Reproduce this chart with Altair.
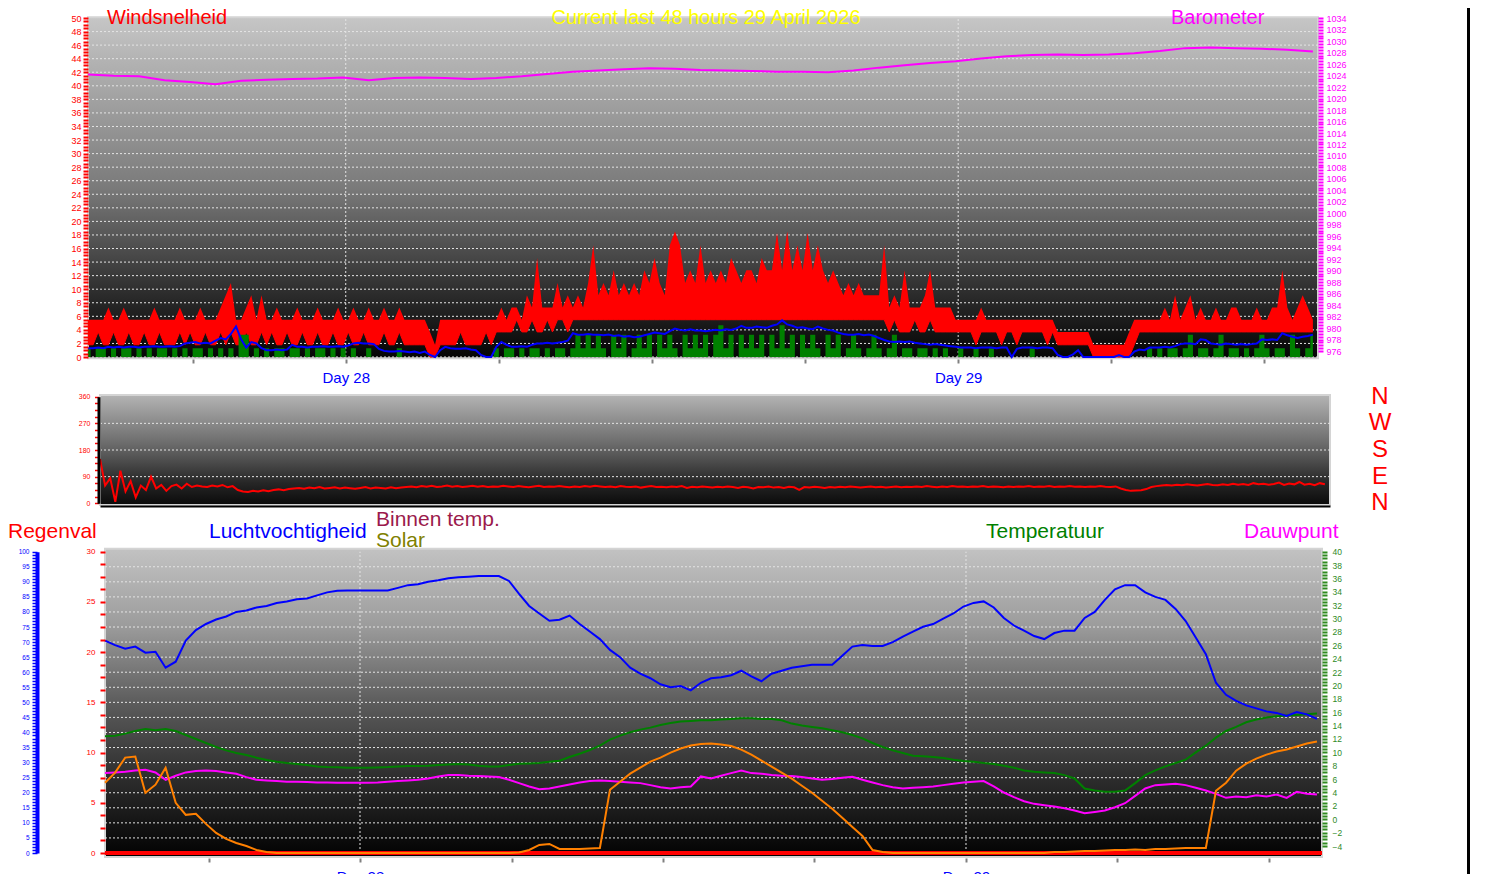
import altair as alt
import pandas as pd

# ---------------- data (hours relative to Day 28 00:00) ----------------
T_START = -10.1
T_END = 38.1
DT_WIND = 0.2
DT_BARO = 1.0
DT_CLIM = 0.4

# gust speed: upper and lower envelope of each 12-minute slot
gust_hi = [
    5.5, 5.5, 5.5, 5.5, 7.3, 5.5, 5.5, 7.3, 5.5, 5.5,
    5.5, 5.5, 5.5, 7.3, 5.5, 5.5, 5.5, 5.5, 7.3, 5.5,
    5.5, 5.5, 7.3, 5.5, 5.5, 5.5, 7.3, 9.1, 10.9, 5.5,
    5.5, 7.3, 9.1, 5.5, 9.1, 5.5, 5.5, 7.3, 5.5, 5.5,
    5.5, 7.3, 5.5, 5.5, 5.5, 7.3, 5.5, 5.5, 5.5, 7.3,
    5.5, 5.5, 7.3, 5.5, 5.5, 7.3, 5.5, 5.5, 7.3, 5.5,
    5.5, 7.3, 5.5, 5.5, 5.5, 5.5, 5.5, 3.7, 1.8, 5.5,
    5.5, 5.5, 5.5, 5.5, 5.5, 5.5, 5.5, 5.5, 5.5, 5.5,
    5.5, 7.3, 5.5, 7.3, 7.3, 5.5, 9.1, 7.3, 14.6, 7.3,
    7.3, 7.3, 10.9, 7.3, 9.1, 7.3, 9.1, 7.3, 10.9, 16.5,
    9.1, 10.9, 9.1, 12.8, 9.1, 10.9, 9.1, 10.9, 9.1, 12.8,
    10.9, 14.6, 10.9, 9.1, 16.5, 18.5, 16.5, 10.9, 12.8, 10.9,
    16.5, 10.9, 12.8, 10.9, 12.8, 10.9, 14.6, 12.8, 10.9, 12.8,
    12.8, 10.9, 14.6, 12.8, 12.8, 18.3, 12.8, 18.5, 12.8, 16.5,
    12.8, 18.3, 12.8, 16.5, 12.8, 10.9, 12.8, 10.9, 9.1, 10.9,
    9.1, 10.9, 9.1, 9.1, 9.1, 9.1, 16.5, 7.3, 9.1, 7.3,
    12.8, 7.3, 7.3, 7.3, 9.1, 12.8, 7.3, 7.3, 7.3, 7.3,
    5.5, 5.5, 5.5, 5.5, 5.5, 7.3, 5.5, 5.5, 5.5, 5.5,
    5.5, 5.5, 5.5, 5.5, 5.5, 5.5, 5.5, 5.5, 5.5, 5.5,
    3.7, 3.7, 3.7, 3.7, 3.7, 3.7, 3.7, 1.8, 1.8, 1.8,
    1.8, 1.8, 1.8, 1.8, 3.7, 5.5, 5.5, 5.5, 5.5, 5.5,
    5.5, 7.3, 5.5, 9.1, 5.5, 7.3, 9.1, 5.5, 7.3, 5.5,
    5.5, 7.3, 5.5, 5.5, 7.3, 7.3, 5.5, 5.5, 5.5, 7.3,
    5.5, 5.5, 7.3, 7.3, 12.8, 7.3, 5.5, 7.3, 9.1, 7.3, 5.5,
]

gust_lo = [
    1.8, 1.8, 3.7, 1.8, 1.8, 3.7, 1.8, 1.8, 3.7, 1.8,
    1.8, 3.7, 1.8, 1.8, 3.7, 1.8, 1.8, 1.8, 3.7, 1.8,
    3.7, 1.8, 1.8, 3.7, 1.8, 1.8, 3.7, 1.8, 3.7, 1.8,
    1.8, 3.7, 1.8, 1.8, 3.7, 1.8, 3.7, 1.8, 1.8, 3.7,
    1.8, 1.8, 3.7, 1.8, 1.8, 3.7, 1.8, 1.8, 3.7, 1.8,
    1.8, 3.7, 1.8, 1.8, 3.7, 1.8, 1.8, 1.8, 3.7, 1.8,
    1.8, 3.7, 1.8, 1.8, 1.8, 1.8, 1.8, 0.0, 0.0, 1.8,
    1.8, 1.8, 1.8, 3.7, 1.8, 1.8, 1.8, 1.8, 3.7, 1.8,
    3.7, 3.7, 3.7, 3.7, 5.5, 3.7, 3.7, 5.5, 3.7, 3.7,
    5.5, 3.7, 5.5, 5.5, 3.7, 5.5, 5.5, 5.5, 5.5, 5.5,
    5.5, 5.5, 5.5, 5.5, 5.5, 5.5, 5.5, 5.5, 5.5, 5.5,
    5.5, 5.5, 5.5, 5.5, 5.5, 5.5, 5.5, 5.5, 5.5, 5.5,
    5.5, 5.5, 5.5, 5.5, 5.5, 5.5, 5.5, 5.5, 5.5, 5.5,
    5.5, 5.5, 5.5, 5.5, 5.5, 5.5, 5.5, 5.5, 5.5, 5.5,
    5.5, 5.5, 5.5, 5.5, 5.5, 5.5, 5.5, 5.5, 5.5, 5.5,
    5.5, 5.5, 5.5, 5.5, 5.5, 5.5, 5.5, 3.7, 5.5, 3.7,
    3.7, 3.7, 5.5, 3.7, 3.7, 5.5, 3.7, 3.7, 3.7, 3.7,
    3.7, 3.7, 3.7, 3.7, 1.8, 3.7, 3.7, 3.7, 3.7, 1.8,
    3.7, 3.7, 1.8, 3.7, 3.7, 3.7, 3.7, 3.7, 1.8, 3.7,
    1.8, 1.8, 1.8, 1.8, 1.8, 1.8, 1.8, 0.0, 0.0, 0.0,
    0.0, 0.0, 0.0, 0.0, 0.0, 1.8, 3.7, 3.7, 3.7, 3.7,
    3.7, 3.7, 3.7, 3.7, 3.7, 3.7, 3.7, 3.7, 3.7, 3.7,
    3.7, 3.7, 3.7, 3.7, 3.7, 3.7, 3.7, 3.7, 3.7, 3.7,
    3.7, 3.7, 3.7, 3.7, 3.7, 3.7, 3.7, 3.7, 3.7, 3.7, 3.7,
]

wind_avg = [
    1.3, 1.3, 1.4, 1.3, 1.5, 1.4, 1.5, 1.4, 1.5, 1.5,
    1.4, 1.5, 1.5, 1.6, 1.5, 1.5, 1.6, 1.5, 1.6, 2.0,
    2.1, 2.2, 2.0, 2.1, 2.0, 2.4, 2.8, 2.6, 3.4, 4.5,
    2.6, 1.4, 2.2, 2.0, 1.3, 1.0, 1.0, 1.1, 1.0, 1.1,
    1.8, 1.5, 1.5, 1.4, 1.5, 1.5, 1.6, 1.5, 1.5, 1.6,
    1.5, 1.7, 2.0, 2.1, 2.0, 2.0, 1.9, 1.2, 0.9, 0.8,
    0.8, 0.9, 0.8, 0.7, 0.8, 0.6, 0.8, 0.3, 0.0, 1.0,
    1.5, 1.3, 1.2, 1.2, 1.3, 1.1, 1.0, 0.3, 0.0, 0.0,
    1.5, 2.2, 1.8, 1.5, 1.5, 1.6, 1.5, 1.8, 2.0, 2.0,
    2.1, 2.0, 2.1, 2.2, 2.4, 3.5, 3.3, 3.3, 3.4, 3.3,
    3.3, 3.2, 3.3, 3.1, 3.2, 3.0, 3.1, 2.9, 3.0, 3.2,
    3.4, 3.6, 3.5, 3.4, 3.8, 4.2, 4.0, 3.9, 4.1, 3.9,
    3.9, 3.8, 3.9, 4.0, 3.9, 4.1, 4.0, 4.2, 4.6, 4.3,
    4.3, 4.5, 4.4, 4.3, 4.6, 4.8, 5.4, 4.8, 4.6, 4.3,
    4.4, 4.2, 4.1, 4.5, 4.2, 4.0, 3.9, 3.6, 3.4, 3.3,
    3.3, 3.4, 3.2, 3.3, 3.1, 2.8, 2.5, 2.3, 2.2, 2.3,
    2.2, 2.3, 2.1, 2.0, 1.9, 1.8, 1.9, 1.8, 1.7, 1.6,
    1.5, 1.4, 1.4, 1.4, 1.3, 1.4, 1.4, 1.4, 1.3, 1.4,
    1.4, 0.0, 1.2, 1.4, 1.4, 1.4, 1.3, 1.4, 1.4, 1.3,
    0.3, 0.0, 0.0, 0.4, 1.0, 0.0, 0.0, 0.0, 0.0, 0.0,
    0.0, 0.0, 0.3, 0.0, 0.0, 0.8, 1.1, 1.0, 1.4, 1.4,
    1.4, 1.5, 1.4, 1.6, 1.9, 2.0, 2.0, 1.9, 2.6, 2.5,
    2.0, 1.9, 1.8, 2.0, 1.9, 1.8, 1.9, 1.8, 1.9, 2.0,
    2.6, 2.5, 2.6, 2.5, 3.5, 3.2, 3.0, 2.8, 3.0, 3.1, 3.3,
]

wind_lull = [
    1.3, 0, 1.3, 1.3, 0, 1.3, 0, 1.3, 1.3, 0,
    1.3, 0, 1.3, 0, 1.3, 1.3, 0, 1.3, 0, 1.3,
    0, 1.3, 1.3, 0, 1.3, 0, 1.3, 0, 1.3, 0,
    3.3, 3.3, 0, 1.3, 0, 1.3, 0, 1.3, 1.3, 0,
    1.3, 1.3, 0, 1.3, 0, 1.3, 1.3, 0, 1.3, 0,
    1.3, 0, 1.3, 0, 0, 1.3, 0, 0, 0, 0,
    0, 1.3, 0, 0, 0, 0, 0, 0, 0, 0,
    0, 0, 0, 0, 0, 0, 0, 0, 0, 0,
    1.3, 0, 1.3, 1.3, 0, 1.3, 0, 1.3, 1.3, 0,
    1.3, 0, 1.3, 1.3, 0, 1.3, 3.3, 1.3, 3.3, 1.3,
    3.3, 1.3, 0, 3.3, 1.3, 3.3, 0, 1.3, 3.3, 1.3,
    3.3, 0, 3.3, 1.3, 3.3, 1.3, 0, 3.3, 1.3, 3.3,
    1.3, 3.3, 0, 3.3, 4.7, 1.3, 3.3, 0, 3.3, 1.3,
    3.3, 1.3, 3.3, 0, 3.3, 1.3, 4.7, 1.3, 3.3, 0,
    3.3, 1.3, 3.3, 1.3, 0, 3.3, 1.3, 3.3, 0, 1.3,
    3.3, 1.3, 0, 1.3, 3.3, 1.3, 0, 1.3, 3.3, 0,
    1.3, 1.3, 0, 1.3, 1.3, 0, 1.3, 0, 1.3, 0,
    0, 1.3, 0, 0, 1.3, 0, 0, 1.3, 0, 0,
    0, 0, 0, 0, 0, 1.3, 0, 0, 0, 0,
    0, 0, 0, 0, 0, 0, 0, 0, 0, 0,
    0, 0, 0, 0, 0, 0, 0, 0, 1.3, 0,
    1.3, 0, 1.3, 1.3, 0, 1.3, 3.3, 0, 1.3, 1.3,
    0, 1.3, 3.3, 0, 1.3, 1.3, 0, 1.3, 0, 1.3,
    3.3, 1.3, 0, 1.3, 1.3, 0, 3.3, 1.3, 0, 1.3, 3.3,
]

barometer = [
    1024.2, 1024.0, 1023.9, 1023.2, 1022.9, 1022.5, 1023.1, 1023.3, 1023.4, 1023.5,
    1023.7, 1023.2, 1023.6, 1023.7, 1023.6, 1023.4, 1023.6, 1023.9, 1024.3, 1024.7,
    1024.9, 1025.1, 1025.3, 1025.2, 1025.0, 1024.9, 1024.8, 1024.7, 1024.7, 1024.6,
    1024.9, 1025.4, 1025.8, 1026.2, 1026.5, 1027.0, 1027.4, 1027.6, 1027.7, 1027.6,
    1027.7, 1027.9, 1028.3, 1028.8, 1028.9, 1028.8, 1028.7, 1028.5, 1028.2,
]

wind_dir = [
    150, 60, 85, 5, 110, 40, 75, 20, 60, 45,
    90, 50, 62, 42, 58, 63, 50, 66, 55, 60,
    57, 55, 60, 57, 62, 54, 58, 45, 40, 38,
    42, 40, 44, 41, 45, 47, 44, 48, 50, 52,
    49, 53, 51, 55, 50, 52, 54, 50, 53, 51,
    49, 52, 55, 50, 53, 52, 50, 54, 51, 53,
    55, 57, 54, 58, 56, 59, 55, 57, 60, 56,
    58, 55, 57, 59, 56, 58, 55, 57, 56, 59,
    57, 55, 58, 56, 54, 57, 59, 55, 57, 56,
    58, 56, 54, 57, 55, 58, 56, 59, 57, 55,
    57, 54, 58, 56, 55, 57, 53, 56, 58, 55,
    56, 54, 57, 55, 58, 52, 56, 54, 57, 55,
    53, 56, 54, 57, 55, 52, 56, 54, 50, 55,
    54, 57, 53, 55, 52, 56, 54, 45, 55, 53,
    56, 54, 52, 55, 53, 56, 54, 57, 55, 53,
    55, 57, 54, 56, 53, 55, 57, 54, 56, 55,
    57, 55, 58, 56, 54, 57, 55, 58, 56, 57,
    55, 57, 56, 58, 55, 57, 56, 54, 57, 55,
    57, 56, 58, 55, 57, 56, 58, 55, 57, 56,
    58, 56, 57, 55, 57, 56, 58, 56, 55, 57,
    50, 45, 42, 43, 44, 48, 55, 58, 60, 62,
    60, 63, 61, 64, 62, 60, 63, 65, 62, 61,
    64, 62, 66, 63, 65, 62, 68, 64, 66, 63,
    65, 70, 62, 67, 64, 72, 63, 66, 61, 68, 64,
]

humidity = [
    70.5, 69.0, 67.8, 68.5, 66.5, 66.8, 61.5, 63.5, 70.5, 74.0,
    76.0, 77.5, 78.5, 80.0, 80.5, 81.5, 82.0, 83.0, 83.5, 84.2,
    84.5, 85.5, 86.5, 87.0, 87.1, 87.1, 87.1, 87.1, 87.1, 88.0,
    88.9, 89.2, 90.0, 90.5, 91.2, 91.5, 91.7, 91.9, 91.9, 91.9,
    90.3, 86.0, 82.0, 79.5, 77.1, 77.4, 78.8, 76.0, 73.5, 71.0,
    67.4, 65.0, 61.5, 59.5, 58.0, 56.0, 55.0, 55.4, 54.0, 56.5,
    58.0, 58.3, 59.0, 60.5, 58.6, 57.0, 59.5, 60.5, 61.5, 62.0,
    62.5, 62.5, 62.5, 65.5, 68.5, 69.0, 68.7, 68.7, 70.0, 71.8,
    73.5, 75.1, 76.0, 77.8, 79.5, 81.8, 83.0, 83.5, 81.5, 78.0,
    75.5, 73.8, 72.0, 71.0, 73.0, 73.8, 73.8, 78.0, 80.0, 84.0,
    87.5, 88.9, 88.9, 86.5, 85.0, 84.0, 81.0, 77.0, 71.5, 66.0,
    56.5, 52.5, 50.5, 49.0, 48.0, 47.0, 46.5, 45.5, 46.8, 46.0,
    44.5,
]

temperature = [
    12.4, 12.5, 12.8, 13.2, 13.5, 13.3, 13.5, 13.2, 12.6, 12.0,
    11.4, 10.8, 10.3, 9.9, 9.6, 9.2, 8.85, 8.6, 8.4, 8.25,
    8.1, 7.9, 7.8, 7.76, 7.7, 7.7, 7.7, 7.75, 7.8, 7.9,
    7.95, 7.96, 8.0, 8.1, 8.2, 8.25, 8.2, 8.0, 7.9, 7.9,
    8.1, 8.3, 8.35, 8.4, 8.6, 8.75, 9.3, 9.8, 10.35, 11.0,
    11.9, 12.5, 13.0, 13.4, 13.7, 14.1, 14.4, 14.6, 14.7, 14.8,
    14.8, 14.9, 15.0, 15.1, 15.1, 15.0, 15.0, 14.8, 14.3, 14.0,
    13.8, 13.6, 13.3, 13.0, 12.6, 12.1, 11.4, 10.8, 10.3, 9.9,
    9.5, 9.4, 9.3, 9.15, 8.9, 8.7, 8.6, 8.4, 8.26, 8.0,
    7.7, 7.3, 7.1, 7.0, 6.9, 6.6, 6.1, 4.6, 4.3, 4.1,
    4.1, 4.3, 5.4, 6.6, 7.3, 7.9, 8.4, 8.9, 10.0, 11.0,
    12.2, 13.2, 13.8, 14.5, 14.9, 15.2, 15.4, 15.5, 15.6, 15.7,
    15.8,
]

dewpoint = [
    6.9, 7.0, 7.1, 7.3, 7.4, 7.0, 5.9, 6.5, 7.0, 7.2,
    7.3, 7.2, 7.0, 6.8, 6.3, 5.9, 5.8, 5.7, 5.6, 5.6,
    5.55, 5.5, 5.5, 5.47, 5.45, 5.45, 5.47, 5.5, 5.6, 5.7,
    5.8, 5.9, 6.1, 6.4, 6.6, 6.6, 6.5, 6.45, 6.4, 6.3,
    5.9, 5.4, 4.9, 4.5, 4.6, 4.9, 5.2, 5.5, 5.7, 5.8,
    5.7, 5.6, 5.5, 5.4, 5.1, 4.8, 4.6, 4.8, 4.9, 6.4,
    6.1, 6.5, 6.9, 7.3, 6.9, 6.8, 6.6, 6.5, 6.45, 6.3,
    6.1, 5.9, 6.0, 6.2, 6.35, 5.9, 5.5, 5.1, 4.8, 4.6,
    4.7, 4.8, 4.9, 5.1, 5.3, 5.5, 5.6, 5.7, 4.9, 4.0,
    3.3, 2.7, 2.3, 2.1, 1.9, 1.65, 1.3, 0.9, 1.1, 1.3,
    1.8, 2.4, 3.5, 4.6, 5.1, 5.2, 5.3, 5.1, 4.7, 4.3,
    3.8, 3.2, 3.4, 3.3, 3.6, 3.4, 3.7, 3.2, 4.1, 3.8,
    3.7,
]

solar = [
    7.0, 8.0, 9.5, 9.6, 6.0, 6.8, 8.5, 5.0, 3.8, 3.9,
    2.9, 2.0, 1.4, 1.0, 0.7, 0.3, 0.1, 0.0, 0.0, 0.0,
    0.0, 0.0, 0.0, 0.0, 0.0, 0.0, 0.0, 0.0, 0.0, 0.0,
    0.0, 0.0, 0.0, 0.0, 0.0, 0.0, 0.0, 0.0, 0.0, 0.0,
    0.0, 0.05, 0.3, 0.8, 0.9, 0.4, 0.4, 0.4, 0.45, 0.5,
    6.3, 7.1, 7.9, 8.5, 9.1, 9.5, 10.0, 10.4, 10.7, 10.85,
    10.9, 10.8, 10.65, 10.3, 9.8, 9.2, 8.6, 8.0, 7.4, 6.7,
    6.0, 5.2, 4.4, 3.5, 2.6, 1.7, 0.3, 0.1, 0.0, 0.0,
    0.0, 0.0, 0.0, 0.0, 0.0, 0.0, 0.0, 0.0, 0.0, 0.0,
    0.0, 0.0, 0.0, 0.0, 0.1, 0.1, 0.15, 0.2, 0.2, 0.25,
    0.3, 0.3, 0.35, 0.3, 0.4, 0.4, 0.45, 0.5, 0.5, 0.5,
    6.2, 7.0, 8.2, 8.9, 9.4, 9.8, 10.1, 10.3, 10.6, 10.9,
    11.1,
]

rain_t = [T_START, T_END]
rain = [0.0, 0.0]

day_ticks = [-6, 0, 6, 12, 18, 24, 30, 36]
day_names = {0: "Day 28", 24: "Day 29"}
compass_dirs = [360, 270, 180, 90, 0]
compass_letters = ["N", "W", "S", "E", "N"]

# ---------------- layout helpers ----------------
W, H = 1465, 866
M = 8  # page margin: chart coords = page coords - 8


def px(p):
    return p - M


FONT = "Liberation Sans"


def times(n, dt):
    return [round(T_START + dt * i, 3) for i in range(n)]


def series(values, dt):
    return pd.DataFrame({"t": times(len(values), dt), "v": values})


def lin(domain, r0, r1):
    return alt.Scale(domain=domain, range=[px(r0), px(r1)], nice=False, zero=False)


xs1 = lin([T_START, T_END], 88, 1318)
ys_wind = lin([0, 50], 357, 18)
ys_baro = lin([976, 1034], 351, 18.3)
xs2 = lin([T_START, T_END], 100, 1330)
ys_dir = lin([0, 360], 503.3, 396.7)
xs3 = lin([T_START, T_END], 105, 1322)
ys_rain = lin([0, 30], 853, 551.7)
ys_hum = lin([0, 100], 853, 551.7)
ys_temp = lin([-4, 40], 846, 551.7)


def yaxis(orient, at_page, lo, hi, step, every, color, size, tick_size, tick_w, pad,
          domain=False, domain_color="black", domain_w=1):
    n = int(round((hi - lo) / step))
    offset = -px(at_page) if orient == "left" else px(at_page) - W
    return alt.Axis(
        orient=orient, offset=offset, title=None, grid=False,
        values=[lo + step * i for i in range(n + 1)],
        labelExpr=f"datum.value % {every} == 0 ? format(datum.value, 'd') : ''",
        labelColor=color, labelFont=FONT, labelFontSize=size, labelPadding=pad,
        labelOverlap=False, labelFlush=False,
        tickColor=color, tickSize=tick_size, tickWidth=tick_w,
        domain=domain, domainColor=domain_color, domainWidth=domain_w, zindex=2,
    )


def xaxis(at_page, labels=True, domain=False, domain_color="black", domain_w=1):
    expr = " : ".join([f"datum.value == {k} ? '{v}'" for k, v in day_names.items()]) + " : ''"
    return alt.Axis(
        orient="bottom", offset=px(at_page) - H, title=None, grid=False,
        values=day_ticks if labels else [],
        labelExpr=expr, labels=labels, ticks=labels,
        labelColor="#0000ff", labelFont=FONT, labelFontSize=15, labelPadding=7,
        labelOverlap=False, labelFlush=False,
        tickColor="#808080", tickSize=4, tickWidth=2,
        domain=domain, domainColor=domain_color, domainWidth=domain_w, zindex=2,
    )


def grad(stops):
    return alt.LinearGradient(gradient="linear", x1=0, y1=0, x2=0, y2=1,
                              stops=[alt.GradientStop(offset=o, color=c) for o, c in stops])


def panel(xs, ys, v0, v1, stops):
    df = pd.DataFrame({"t0": [T_START], "t1": [T_END], "v0": [v0], "v1": [v1]})
    return alt.Chart(df).mark_rect(fill=grad(stops), stroke="#d4d4d4", strokeWidth=2).encode(
        x=alt.X("t0:Q", scale=xs, axis=None), x2="t1:Q",
        y=alt.Y("v0:Q", scale=ys, axis=None), y2="v1:Q")


def hgrid(xs, ys, levels):
    df = pd.DataFrame({"g": levels, "t0": T_START, "t1": T_END})
    return alt.Chart(df).mark_rule(stroke="#e4e4e4", strokeDash=[2, 2], strokeWidth=1).encode(
        x=alt.X("t0:Q", scale=xs, axis=None), x2="t1:Q",
        y=alt.Y("g:Q", scale=ys, axis=None))


def vgrid(xs, ys, lo, hi):
    df = pd.DataFrame({"t": [0, 24], "lo": lo, "hi": hi})
    return alt.Chart(df).mark_rule(stroke="#e4e4e4", strokeDash=[2, 2], strokeWidth=1).encode(
        x=alt.X("t:Q", scale=xs, axis=None),
        y=alt.Y("lo:Q", scale=ys, axis=None), y2="hi:Q")


def line(df, xs, ys, color, width=2, xax=None, yax=None):
    return alt.Chart(df).mark_line(color=color, strokeWidth=width).encode(
        x=alt.X("t:Q", scale=xs, axis=xax),
        y=alt.Y("v:Q", scale=ys, axis=yax))


def label(text, x, y, color, size=21, align="left"):
    return alt.Chart(pd.DataFrame({"s": [text]})).mark_text(
        font=FONT, fontSize=size, color=color, align=align, baseline="alphabetic"
    ).encode(text="s:N", x=alt.value(px(x)), y=alt.value(px(y)))


gust_df = pd.DataFrame({"t": times(len(gust_hi), DT_WIND), "lo": gust_lo, "hi": gust_hi})
lull_df = pd.DataFrame({"t": times(len(wind_lull), DT_WIND), "v": wind_lull})

# ---------------- panel 1: wind speed + barometer ----------------
layers = [
    panel(xs1, ys_wind, -0.2, 50.1,
          [(0, "#c6c6c6"), (0.5, "#7a7a7a"), (0.82, "#2a2a2a"), (1, "#040404")]),
    label("Windsnelheid", 107, 24, "#ff0000", size=20),
    label("Current last 48 hours 29 April 2026", 706, 24, "#ffff00", size=20, align="center"),
    label("Barometer", 1171, 24, "#ff00ff", size=20),
    hgrid(xs1, ys_wind, list(range(0, 50, 2))),
    vgrid(xs1, ys_wind, 0, 50),
    alt.Chart(gust_df).mark_area(color="#ff0000", opacity=1, line={"color": "#ff0000", "strokeWidth": 1}).encode(
        x=alt.X("t:Q", scale=xs1, axis=xaxis(359)),
        y=alt.Y("lo:Q", scale=ys_wind,
                axis=yaxis("left", 88, 0, 50, 0.5, 2, "#ff0000", 9, 5, 2, 2)),
        y2="hi:Q"),
    alt.Chart(lull_df).mark_area(color="#008000", interpolate="step", opacity=1).encode(
        x=alt.X("t:Q", scale=xs1, axis=None),
        y=alt.Y("v:Q", scale=ys_wind, axis=None)),
    line(series(wind_avg, DT_WIND), xs1, ys_wind, "#0000ff", 2),
    line(series(barometer, DT_BARO), xs1, ys_baro, "#ff00ff", 2,
         yax=yaxis("right", 1318, 976, 1034, 0.5, 2, "#ff00ff", 9, 5, 2, 3)),
]

# ---------------- panel 2: wind direction ----------------
compass_df = pd.DataFrame({"d": compass_dirs, "c": compass_letters})
layers += [
    panel(xs2, ys_dir, -6, 366,
          [(0, "#b4b4b4"), (0.45, "#6a6a6a"), (0.8, "#262626"), (1, "#0a0a0a")]),
    hgrid(xs2, ys_dir, [90, 180, 270]),
    line(series(wind_dir, DT_WIND), xs2, ys_dir, "#ff0000", 2,
         xax=xaxis(506, labels=False, domain=True, domain_color="black", domain_w=2),
         yax=yaxis("left", 98.5, 0, 360, 22.5, 90, "#ff0000", 7, 4, 1.5, 4.5,
                   domain=True, domain_color="black", domain_w=3)),
    alt.Chart(compass_df).mark_text(font=FONT, fontSize=24, color="#ff0000",
                                    align="center", baseline="middle").encode(
        text="c:N", x=alt.value(px(1380)),
        y=alt.Y("d:Q", scale=ys_dir, axis=None)),
]

# ---------------- panel 3: climate ----------------
layers += [
    label("Regenval", 8, 538, "#ff0000"),
    label("Luchtvochtigheid", 209, 538, "#0000ff"),
    label("Binnen temp.", 376, 526, "#9b1a4c"),
    label("Solar", 376, 547, "#808000"),
    label("Temperatuur", 986, 538, "#008000"),
    label("Dauwpunt", 1244, 538, "#ff00ff"),
    panel(xs3, ys_rain, -0.4, 30.3,
          [(0, "#c2c2c2"), (0.25, "#9c9c9c"), (0.5, "#5c5c5c"), (0.75, "#2c2c2c"), (1, "#020202")]),
    hgrid(xs3, ys_hum, list(range(5, 100, 5))),
    vgrid(xs3, ys_rain, 0, 30),
    line(pd.DataFrame({"t": rain_t, "v": rain}), xs3, ys_rain, "#ff0000", 4,
         xax=xaxis(858),
         yax=yaxis("left", 105, 0, 30, 1.25, 5, "#ff0000", 8, 5, 2, 5)),
    line(series(temperature, DT_CLIM), xs3, ys_temp, "#008000", 2,
         yax=yaxis("right", 1322, -4, 40, 0.5, 2, "#2f8a1f", 8.5, 5, 2, 5)),
    line(series(dewpoint, DT_CLIM), xs3, ys_temp, "#ff00ff", 2),
    line(series(humidity, DT_CLIM), xs3, ys_hum, "#0000ff", 2,
         yax=yaxis("left", 37, 0, 100, 1, 5, "#0000ff", 6.5, 5, 1.5, 3,
                   domain=True, domain_color="#0000ff", domain_w=4)),
    line(series(solar, DT_CLIM), xs3, ys_rain, "#ff8000", 2),
    alt.Chart(pd.DataFrame({"a": [0]})).mark_rule(color="black", strokeWidth=3).encode(
        x=alt.value(px(1468.5)), y=alt.value(0), y2=alt.value(H)),
]

chart = alt.layer(*layers).resolve_scale(x="independent", y="independent").properties(
    width=W, height=H, padding=0, background="white",
    autosize=alt.AutoSizeParams(type="none"),
).configure_view(stroke=None)

chart.save("out.html", embed_options={"renderer": "svg", "actions": False})
